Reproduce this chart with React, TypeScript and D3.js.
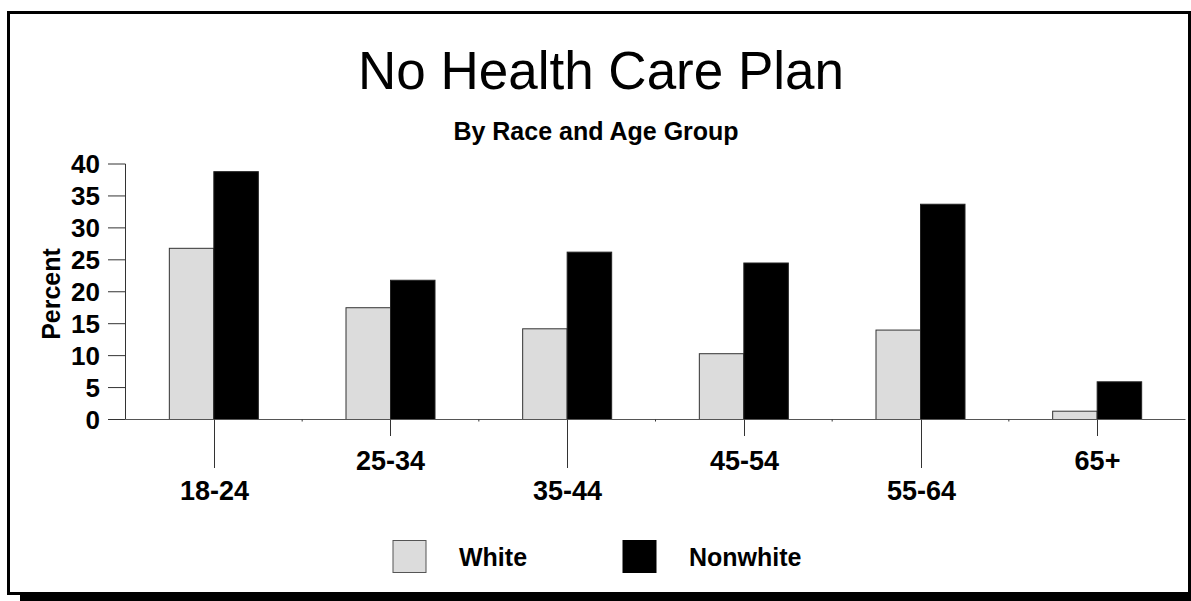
import React from "react";
import * as d3 from "d3";

const categories = ["18-24", "25-34", "35-44", "45-54", "55-64", "65+"];
const whiteValues = [26.8, 17.5, 14.2, 10.3, 14.0, 1.3];
const nonwhiteValues = [38.8, 21.8, 26.2, 24.5, 33.7, 5.9];
const yTicks = [0, 5, 10, 15, 20, 25, 30, 35, 40];
const seriesNames = ["White", "Nonwhite"];

const W = 1191;
const H = 601;
const FONT = "Arial, 'Liberation Sans', Helvetica, sans-serif";

export default function App() {
  const x = d3.scaleBand<string>().domain(categories).range([125.5, 1185.5]);
  const y = d3.scaleLinear().domain([0, 40]).range([419.5, 164]);
  const bw = 44.5;
  const lowered = new Set([0, 2, 4]);

  return (
    <svg
      width={W}
      height={H}
      style={{ position: "absolute", left: 0, top: 0, background: "#fff" }}
      fontFamily={FONT}
    >
      {/* frame and shadow */}
      <rect x={20} y={593} width={W - 20} height={8} fill="#000" />
      <rect x={8.5} y={12.5} width={1181} height={581} fill="#fff" stroke="#000" strokeWidth={3} />

      <text x={601} y={89} textAnchor="middle" fontSize={53} fill="#000">
        No Health Care Plan
      </text>
      <text x={596} y={140} textAnchor="middle" fontSize={25} fontWeight="bold" fill="#000">
        By Race and Age Group
      </text>

      {/* y axis */}
      <line x1={125.5} x2={125.5} y1={y(40)} y2={y(0)} stroke="#333" strokeWidth={1} />
      {yTicks.map((t) => (
        <g key={t}>
          <line x1={108} x2={125.5} y1={y(t)} y2={y(t)} stroke="#333" strokeWidth={1} />
          <text x={100} y={y(t) + 9} textAnchor="end" fontSize={26} fontWeight="bold" fill="#000">
            {t}
          </text>
        </g>
      ))}
      <text
        transform={`translate(60,294) rotate(-90)`}
        textAnchor="middle"
        fontSize={25}
        fontWeight="bold"
        fill="#000"
      >
        Percent
      </text>

      {/* bars */}
      {categories.map((c, i) => {
        const cx = (x(c) as number) + x.bandwidth() / 2;
        return (
          <g key={c}>
            <rect
              x={cx - bw}
              y={y(whiteValues[i])}
              width={bw}
              height={y(0) - y(whiteValues[i])}
              fill="#dcdcdc"
              stroke="#333"
              strokeWidth={1}
            />
            <rect
              x={cx}
              y={y(nonwhiteValues[i])}
              width={bw}
              height={y(0) - y(nonwhiteValues[i])}
              fill="#000"
              stroke="#222"
              strokeWidth={1}
            />
          </g>
        );
      })}

      {/* x axis */}
      <line x1={125.5} x2={1185.5} y1={y(0)} y2={y(0)} stroke="#555" strokeWidth={1} />
      {categories.slice(1).map((c) => (
        <line key={c} x1={x(c)} x2={x(c)} y1={y(0)} y2={y(0) + 2} stroke="#333" />
      ))}
      {categories.map((c, i) => {
        const cx = Math.round((x(c) as number) + x.bandwidth() / 2) + 0.5;
        const low = lowered.has(i);
        return (
          <g key={c}>
            <line x1={cx} x2={cx} y1={y(0)} y2={low ? 468 : 436} stroke="#333" strokeWidth={1} />
            <text
              x={cx}
              y={low ? 500 : 470}
              textAnchor="middle"
              fontSize={27}
              fontWeight="bold"
              fill="#000"
            >
              {c}
            </text>
          </g>
        );
      })}

      {/* legend */}
      <rect x={393} y={540.5} width={33} height={32} fill="#dcdcdc" stroke="#555" strokeWidth={1} />
      <text x={459} y={566} fontSize={25} fontWeight="bold" fill="#000">
        {seriesNames[0]}
      </text>
      <rect x={622.5} y={540} width={34} height={33} fill="#000" />
      <text x={689} y={566} fontSize={25} fontWeight="bold" fill="#000">
        {seriesNames[1]}
      </text>
    </svg>
  );
}
